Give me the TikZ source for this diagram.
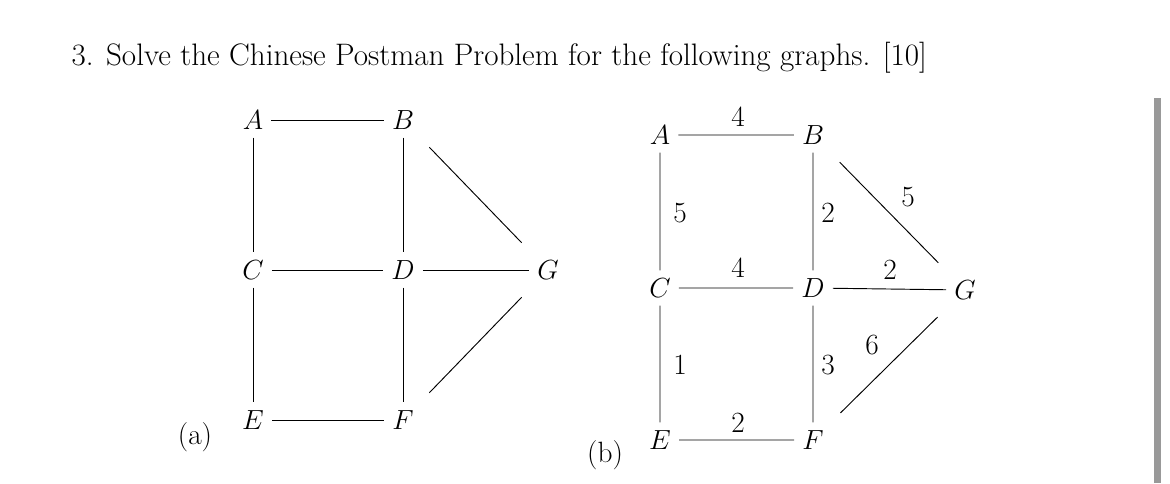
\documentclass[tikz,border=0pt]{standalone}
\begin{document}
\begin{tikzpicture}[x=0.75pt,y=-0.75pt,
 v/.style={font=\fontsize{22}{26}\selectfont, inner sep=6pt},
 w/.style={font=\fontsize{22}{26}\selectfont, inner sep=1pt},
 e/.style={line width=0.7pt},
 dg/.style={line width=0.7pt, shorten >=10pt, shorten <=10pt}]
\useasboundingbox (0,0) rectangle (1170,483);
\fill[gray!80] (1154,98) rectangle (1161,483);
\node[w, anchor=west] (title) at (70,58) {\fontsize{23.3}{27}\selectfont 3. Solve the Chinese Postman Problem for the following graphs. [10]};
% (a)
\node[v] (aA) at (253,120) {$A$};
\node[v] (aB) at (403,120) {$B$};
\node[v] (aC) at (253,270) {$C$};
\node[v] (aD) at (403,270) {$D$};
\node[v] (aG) at (548,270) {$G$};
\node[v] (aE) at (253,420) {$E$};
\node[v] (aF) at (403,420) {$F$};
\node[w] (la) at (195,437) {(a)};
\draw[e] (aA)--(aB) (aA)--(aC) (aC)--(aE) (aB)--(aD) (aD)--(aF) (aC)--(aD) (aD)--(aG) (aE)--(aF);
\draw[dg] (aB)--(aG); \draw[dg] (aF)--(aG);
% (b)
\node[v] (bA) at (660,135) {$A$};
\node[v] (bB) at (813,135) {$B$};
\node[v] (bC) at (660,288) {$C$};
\node[v] (bD) at (813,288) {$D$};
\node[v] (bG) at (965,290) {$G$};
\node[v] (bE) at (660,440) {$E$};
\node[v] (bF) at (813,440) {$F$};
\node[w] (lb) at (605,455) {(b)};
\draw[e] (bA)--(bB) (bA)--(bC) (bC)--(bE) (bB)--(bD) (bD)--(bF) (bC)--(bD) (bD)--(bG) (bE)--(bF);
\draw[dg] (bB)--(bG); \draw[dg] (bF)--(bG);
\node[w] (w1) at (738,117) {4};
\node[w] (w2) at (680,213) {5};
\node[w] (w3) at (828,213) {2};
\node[w] (w4) at (908,197) {5};
\node[w] (w5) at (738,268) {4};
\node[w] (w6) at (890,270) {2};
\node[w] (w7) at (680,365) {1};
\node[w] (w8) at (828,365) {3};
\node[w] (w9) at (872,345) {6};
\node[w] (w10) at (738,423) {2};
\end{tikzpicture}
\end{document}
